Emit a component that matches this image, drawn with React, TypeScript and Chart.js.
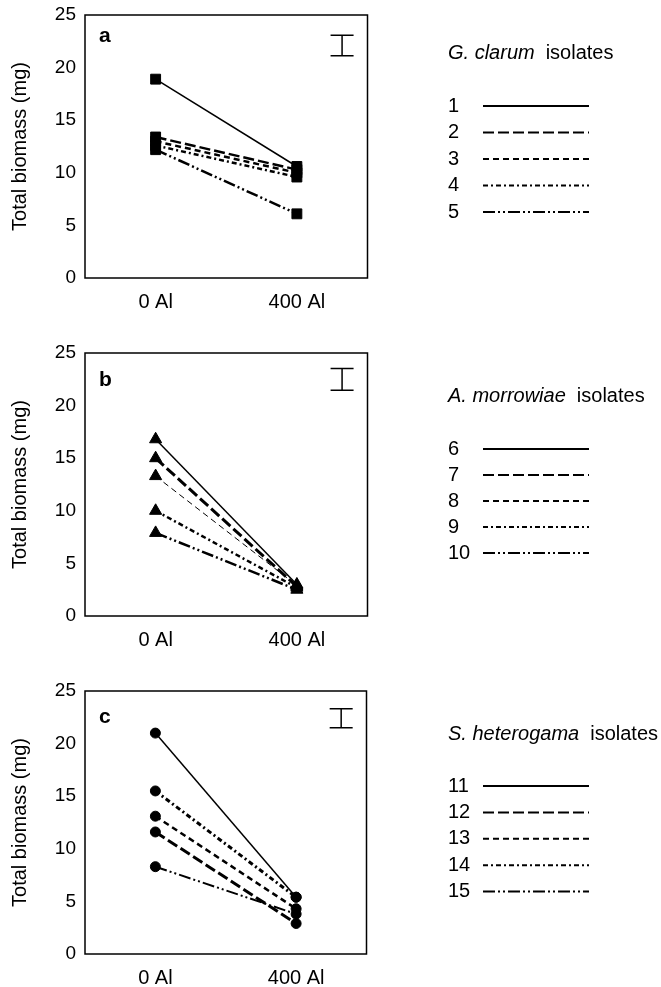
import React, { useEffect, useRef } from "react";
import { Chart, registerables } from "chart.js";

Chart.register(...registerables);

// ---------- data ----------
const categories = ["0 Al", "400 Al"];
const yTickValues = [0, 5, 10, 15, 20, 25];
const yAxisTitle = "Total biomass (mg)";

const panelLetters = ["a", "b", "c"];
const speciesNames = ["G. clarum", "A. morrowiae", "S. heterogama"];
const legendSuffix = "isolates";

const isolatesA = ["1", "2", "3", "4", "5"];
const isolatesB = ["6", "7", "8", "9", "10"];
const isolatesC = ["11", "12", "13", "14", "15"];

// each row: [0 Al, 400 Al]
const valuesA = [
  [18.9, 10.6],
  [13.4, 10.3],
  [13.0, 10.0],
  [12.6, 9.6],
  [12.2, 6.1],
];
const valuesB = [
  [16.8, 3.0],
  [15.0, 2.8],
  [13.3, 2.9],
  [10.0, 2.7],
  [7.9, 2.5],
];
const valuesC = [
  [21.0, 5.4],
  [11.6, 2.9],
  [13.1, 4.3],
  [15.5, 5.4],
  [8.3, 3.8],
];

// LSD bar (length in mg) and its centre value, per panel
const lsdLength = [1.97, 2.07, 1.81];
const lsdCenter = [22.1, 22.5, 22.4];
const lsdX = 1.32;

// ---------- styles ----------
const FONT = "'Liberation Sans', Arial, sans-serif";
const dashPatterns = [[], [11, 4], [6, 4], [5, 3, 2, 3], [12, 3, 2, 3, 2, 3]];
const lineWidths = [
  [1.5, 2.5, 2.5, 2.5, 2.5],
  [1.5, 3, 1, 2.5, 2.5],
  [1.5, 3, 2.5, 3, 2],
];
const markerStyles = ["rect", "triangle", "circle"];
const markerRadius = [7, 7, 5];

const panelTops = [0, 338, 676];
const canvasHeights = [338, 338, 311];
const plotRight = [367.5, 367.5, 366.5];
const letterOffset = [21, 27, 26];
const legendTitleOffset = [38, 43, 43];
const legendRowOffset = [91, 96, 95];
const legendRowGap = [26.5, 26, 26.4];

const allValues = [valuesA, valuesB, valuesC];
const allIsolates = [isolatesA, isolatesB, isolatesC];

function makeDecorPlugin(idx: number) {
  return {
    id: "decor" + idx,
    afterDraw(chart: any) {
      const ctx = chart.ctx;
      const area = chart.chartArea;
      const xs = chart.scales.x;
      const ys = chart.scales.y;
      ctx.save();
      // frame
      ctx.strokeStyle = "#000";
      ctx.lineWidth = 1.5;
      ctx.setLineDash([]);
      ctx.strokeRect(area.left, area.top, area.right - area.left, area.bottom - area.top);

      // panel letter
      ctx.fillStyle = "#000";
      ctx.font = "bold 21px " + FONT;
      ctx.textBaseline = "middle";
      ctx.textAlign = "left";
      ctx.fillText(panelLetters[idx], area.left + 14, area.top + letterOffset[idx]);

      // LSD bar
      const bx = xs.getPixelForValue(lsdX);
      const yt = ys.getPixelForValue(lsdCenter[idx] + lsdLength[idx] / 2);
      const yb = ys.getPixelForValue(lsdCenter[idx] - lsdLength[idx] / 2);
      ctx.lineWidth = 1.5;
      ctx.beginPath();
      ctx.moveTo(bx - 11.5, yt);
      ctx.lineTo(bx + 11.5, yt);
      ctx.moveTo(bx, yt);
      ctx.lineTo(bx, yb);
      ctx.moveTo(bx - 11.5, yb);
      ctx.lineTo(bx + 11.5, yb);
      ctx.stroke();

      // legend
      const lx = 448;
      const ty = area.top + legendTitleOffset[idx];
      ctx.font = "italic 20px " + FONT;
      ctx.fillText(speciesNames[idx], lx, ty);
      const w = ctx.measureText(speciesNames[idx]).width;
      ctx.font = "20px " + FONT;
      ctx.fillText(legendSuffix, lx + w + 11, ty);

      const isolates = allIsolates[idx];
      isolates.forEach((lab, i) => {
        const ry = area.top + legendRowOffset[idx] + i * legendRowGap[idx];
        ctx.fillStyle = "#000";
        ctx.font = "20px " + FONT;
        ctx.fillText(lab, lx, ry);
        ctx.beginPath();
        ctx.setLineDash(dashPatterns[i]);
        ctx.lineWidth = 2;
        ctx.moveTo(483, ry);
        ctx.lineTo(589, ry);
        ctx.stroke();
      });
      ctx.restore();
    },
  };
}

function Panel({ idx }: { idx: number }) {
  const ref = useRef<HTMLCanvasElement>(null);
  useEffect(() => {
    if (!ref.current) return;
    const h = canvasHeights[idx];
    const datasets = allValues[idx].map((row, i) => ({
      label: allIsolates[idx][i],
      data: row.map((v, j) => ({ x: j, y: v })),
      borderColor: "#000",
      backgroundColor: "#000",
      borderWidth: lineWidths[idx][i],
      borderDash: dashPatterns[i],
      pointStyle: markerStyles[idx],
      pointRadius: markerRadius[idx],
      pointBorderWidth: 1,
      pointBorderColor: "#000",
      pointBackgroundColor: "#000",
      showLine: true,
      fill: false,
      tension: 0,
    }));
    const xScaleH = 33;
    const chart = new Chart(ref.current, {
      type: "scatter",
      data: { datasets },
      options: {
        animation: false,
        responsive: false,
        devicePixelRatio: 1,
        layout: {
          padding: {
            top: 15,
            left: 0,
            right: 661 - plotRight[idx],
            bottom: h - 278 - xScaleH,
          },
        },
        plugins: { legend: { display: false }, tooltip: { enabled: false } },
        scales: {
          x: {
            type: "linear",
            min: -0.5,
            max: 1.5,
            grid: { display: false, drawTicks: false },
            border: { display: false },
            afterBuildTicks: (s: any) => {
              s.ticks = categories.map((_, i) => ({ value: i }));
            },
            afterFit: (s: any) => {
              s.height = xScaleH;
              s.paddingLeft = 0;
              s.paddingRight = 0;
            },
            ticks: {
              color: "#000",
              font: { family: FONT, size: 20 },
              padding: 12,
              maxRotation: 0,
              autoSkip: false,
              callback: (v: any) => categories[v] ?? "",
            },
          },
          y: {
            min: 0,
            max: 25,
            grid: { display: false, drawTicks: false },
            border: { display: false },
            afterBuildTicks: (s: any) => {
              s.ticks = yTickValues.map((v) => ({ value: v }));
            },
            afterFit: (s: any) => {
              s.width = 85;
              s.paddingTop = 0;
              s.paddingBottom = 0;
            },
            ticks: {
              color: "#000",
              font: { family: FONT, size: 19 },
              padding: 9,
            },
            title: {
              display: true,
              text: yAxisTitle,
              color: "#000",
              font: { family: FONT, size: 20 },
              padding: { top: 8, bottom: 0 },
            },
          },
        },
      } as any,
      plugins: [makeDecorPlugin(idx)],
    });
    return () => chart.destroy();
  }, [idx]);
  return (
    <canvas
      ref={ref}
      width={661}
      height={canvasHeights[idx]}
      style={{
        position: "absolute",
        left: 0,
        top: panelTops[idx],
        width: 661,
        height: canvasHeights[idx],
        display: "block",
      }}
    />
  );
}

export default function App() {
  return (
    <div
      style={{
        position: "absolute",
        left: 0,
        top: 0,
        width: 661,
        height: 987,
        overflow: "hidden",
        background: "#fff",
      }}
    >
      {[0, 1, 2].map((i) => (
        <Panel key={i} idx={i} />
      ))}
    </div>
  );
}
